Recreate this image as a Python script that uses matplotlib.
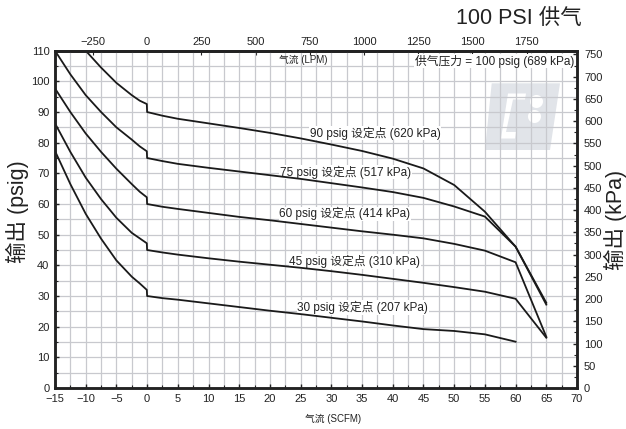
import numpy as np
import matplotlib
matplotlib.use('Agg')
import matplotlib.pyplot as plt
from matplotlib.patches import Polygon

plt.rcParams['font.family'] = ['Liberation Sans', 'Noto Sans CJK SC']

# flow in SCFM
flow_neg_90 = [-10, -7.5, -5, -2.5, -1.2, -0.05]
flow_neg = [-15, -12.5, -10, -7.5, -5, -2.5, -1.2, -0.05]
flow_pos = [0, 2.5, 5, 10, 15, 20, 25, 30, 35, 40, 45, 50, 55, 60, 65]
flow_pos_30 = [0, 2.5, 5, 10, 15, 20, 25, 30, 35, 40, 45, 50, 55, 60]

# output pressure, psig
out_90 = [110, 104.5, 99.5, 95.5, 93.7, 92.6,
          90, 88.8, 87.8, 86.3, 84.8, 83.2, 81.4, 79.4, 77.3, 74.8, 71.6, 66.2, 57.5, 46.1, 27.8]
out_75 = [110, 102.3, 95.5, 90, 85, 81, 78.8, 77.2,
          75, 74, 73.1, 71.8, 70.6, 69.4, 68.2, 66.8, 65.4, 63.9, 62, 59.2, 55.9, 46.1, 27.2]
out_60 = [97.7, 90, 83, 77, 71.5, 66.5, 64, 62.2,
          60, 59.1, 58.4, 57.1, 55.8, 54.7, 53.5, 52.3, 51.1, 50.0, 48.8, 47, 44.8, 41, 16.7]
out_45 = [86.3, 77, 68.6, 61.6, 55.5, 50.6, 48.8, 47.2,
          45, 44.2, 43.5, 42.3, 41.2, 40.2, 39.2, 38.1, 36.9, 35.6, 34.3, 32.9, 31.4, 29.1, 16.4]
out_30 = [77.3, 66.5, 56.8, 48.7, 41.6, 36.3, 34.1, 32,
          30, 29.3, 28.8, 27.6, 26.4, 25.2, 24.1, 22.9, 21.7, 20.4, 19.2, 18.6, 17.5, 15.1]

curve_labels = ['90 psig 设定点 (620 kPa)', '75 psig 设定点 (517 kPa)', '60 psig 设定点 (414 kPa)',
                '45 psig 设定点 (310 kPa)', '30 psig 设定点 (207 kPa)']
label_x = [37.1, 32.3, 32.2, 33.8, 35.1]
label_y = [83.2, 70.4, 56.8, 41.2, 26.3]

PSI_TO_KPA = 6.895
SCFM_TO_LPM = 28.317

fig = plt.figure(figsize=(6.26, 4.29), dpi=100)
ax = fig.add_axes([55/626, 1-388/429, 522/626, 337.3/429])

# faint logo in the background
def px(x, y):
    return ((x - 55) / 522, (388 - y) / 337.3)

ax.add_patch(Polygon([px(491.7, 83.3), px(560, 83.3), px(550, 150), px(485, 150)],
                     closed=True, transform=ax.transAxes, fc='#e1e4e9', ec='none', zorder=1))
ax.add_patch(Polygon([px(508, 93.5), px(526, 93.5), px(525, 99.5), px(513, 99.5),
                      px(506, 132), px(516, 132), px(515, 138.5), px(501, 138.5)],
                     closed=True, transform=ax.transAxes, fc='white', ec='none', zorder=1))
for cx, cy in [(536.5, 101.5), (534.5, 116.5)]:
    ax.add_patch(Polygon([px(cx + 6.5 * np.cos(t), cy + 6.5 * np.sin(t)) for t in np.linspace(0, 2*np.pi, 40)],
                         closed=True, transform=ax.transAxes, fc='white', ec='none', zorder=1))

lc = '#1a1a1a'
ax.plot(flow_neg_90 + flow_pos, out_90, color=lc, lw=1.3, zorder=3)
ax.plot(flow_neg + flow_pos, out_75, color=lc, lw=1.3, zorder=3)
ax.plot(flow_neg + flow_pos, out_60, color=lc, lw=1.3, zorder=3)
ax.plot(flow_neg + flow_pos, out_45, color=lc, lw=1.3, zorder=3)
ax.plot(flow_neg + flow_pos_30, out_30, color=lc, lw=1.3, zorder=3)

for txt, lx, ly in zip(curve_labels, label_x, label_y):
    ax.text(lx, ly, txt, fontsize=8.5, ha='center', va='center', color='#222222', zorder=2,
            bbox=dict(boxstyle='square,pad=0.05', fc='white', ec='none'))

ax.set_xlim(-15, 70)
ax.set_ylim(0, 110)
ax.set_xticks(np.arange(-15, 71, 5))
ax.set_xticks(np.arange(-15, 71, 2.5), minor=True)
ax.set_yticks(np.arange(0, 111, 10))
ax.set_yticks(np.arange(0, 111, 5), minor=True)
ax.grid(True, which='both', color='#c8c9ce', lw=0.9)
ax.tick_params(which='both', direction='in', labelsize=8, colors='#222222', pad=4)
ax.tick_params(which='major', length=3, width=1)
ax.tick_params(which='minor', length=2, width=0.8)
for s in ax.spines.values():
    s.set_linewidth(1.8)
    s.set_color('#222222')

ax2 = ax.twinx()
ax2.set_ylim(0, 110 * PSI_TO_KPA)
ax2.set_yticks(np.arange(0, 751, 50))
ax2.set_yticks(np.arange(0, 751, 25), minor=True)
ax2.tick_params(which='both', direction='in', labelsize=8, colors='#222222', pad=5)
ax2.tick_params(which='major', length=3, width=1)
ax2.tick_params(which='minor', length=2, width=0.8)
for s in ax2.spines.values():
    s.set_linewidth(1.8)
    s.set_color('#222222')

top = ax.secondary_xaxis('top', functions=(lambda x: x * SCFM_TO_LPM, lambda x: x / SCFM_TO_LPM))
top.set_xticks(np.arange(-250, 1751, 250))
top.tick_params(direction='in', labelsize=8, colors='#222222', length=3, pad=3)
top.spines['top'].set_linewidth(1.8)

ax.text((303 - 55) / 522, (388 - 60) / 337.3, '气流 (LPM)', transform=ax.transAxes,
        fontsize=7, ha='center', va='center', color='#222222', zorder=4)
ax.text((574 - 55) / 522, (388 - 61) / 337.3, '供气压力 = 100 psig (689 kPa)', transform=ax.transAxes,
        fontsize=8.5, ha='right', va='center', color='#222222', zorder=4,
        bbox=dict(boxstyle='square,pad=0.05', fc='white', ec='none'))

fig.text(333 / 626, 1 - 419 / 429, '气流 (SCFM)', fontsize=7, ha='center', va='center', color='#222222')
fig.text(17 / 626, 1 - 212 / 429, '输出 (psig)', fontsize=15.5, rotation=90, ha='center', va='center', color='#222222')
fig.text(615 / 626, 1 - 220 / 429, '输出 (kPa)', fontsize=15.5, rotation=90, ha='center', va='center', color='#222222')
fig.text(582 / 626, 1 - 18 / 429, '100 PSI 供气', fontsize=15.5, ha='right', va='center', color='#222222')

fig.savefig('out.png', dpi=100)
